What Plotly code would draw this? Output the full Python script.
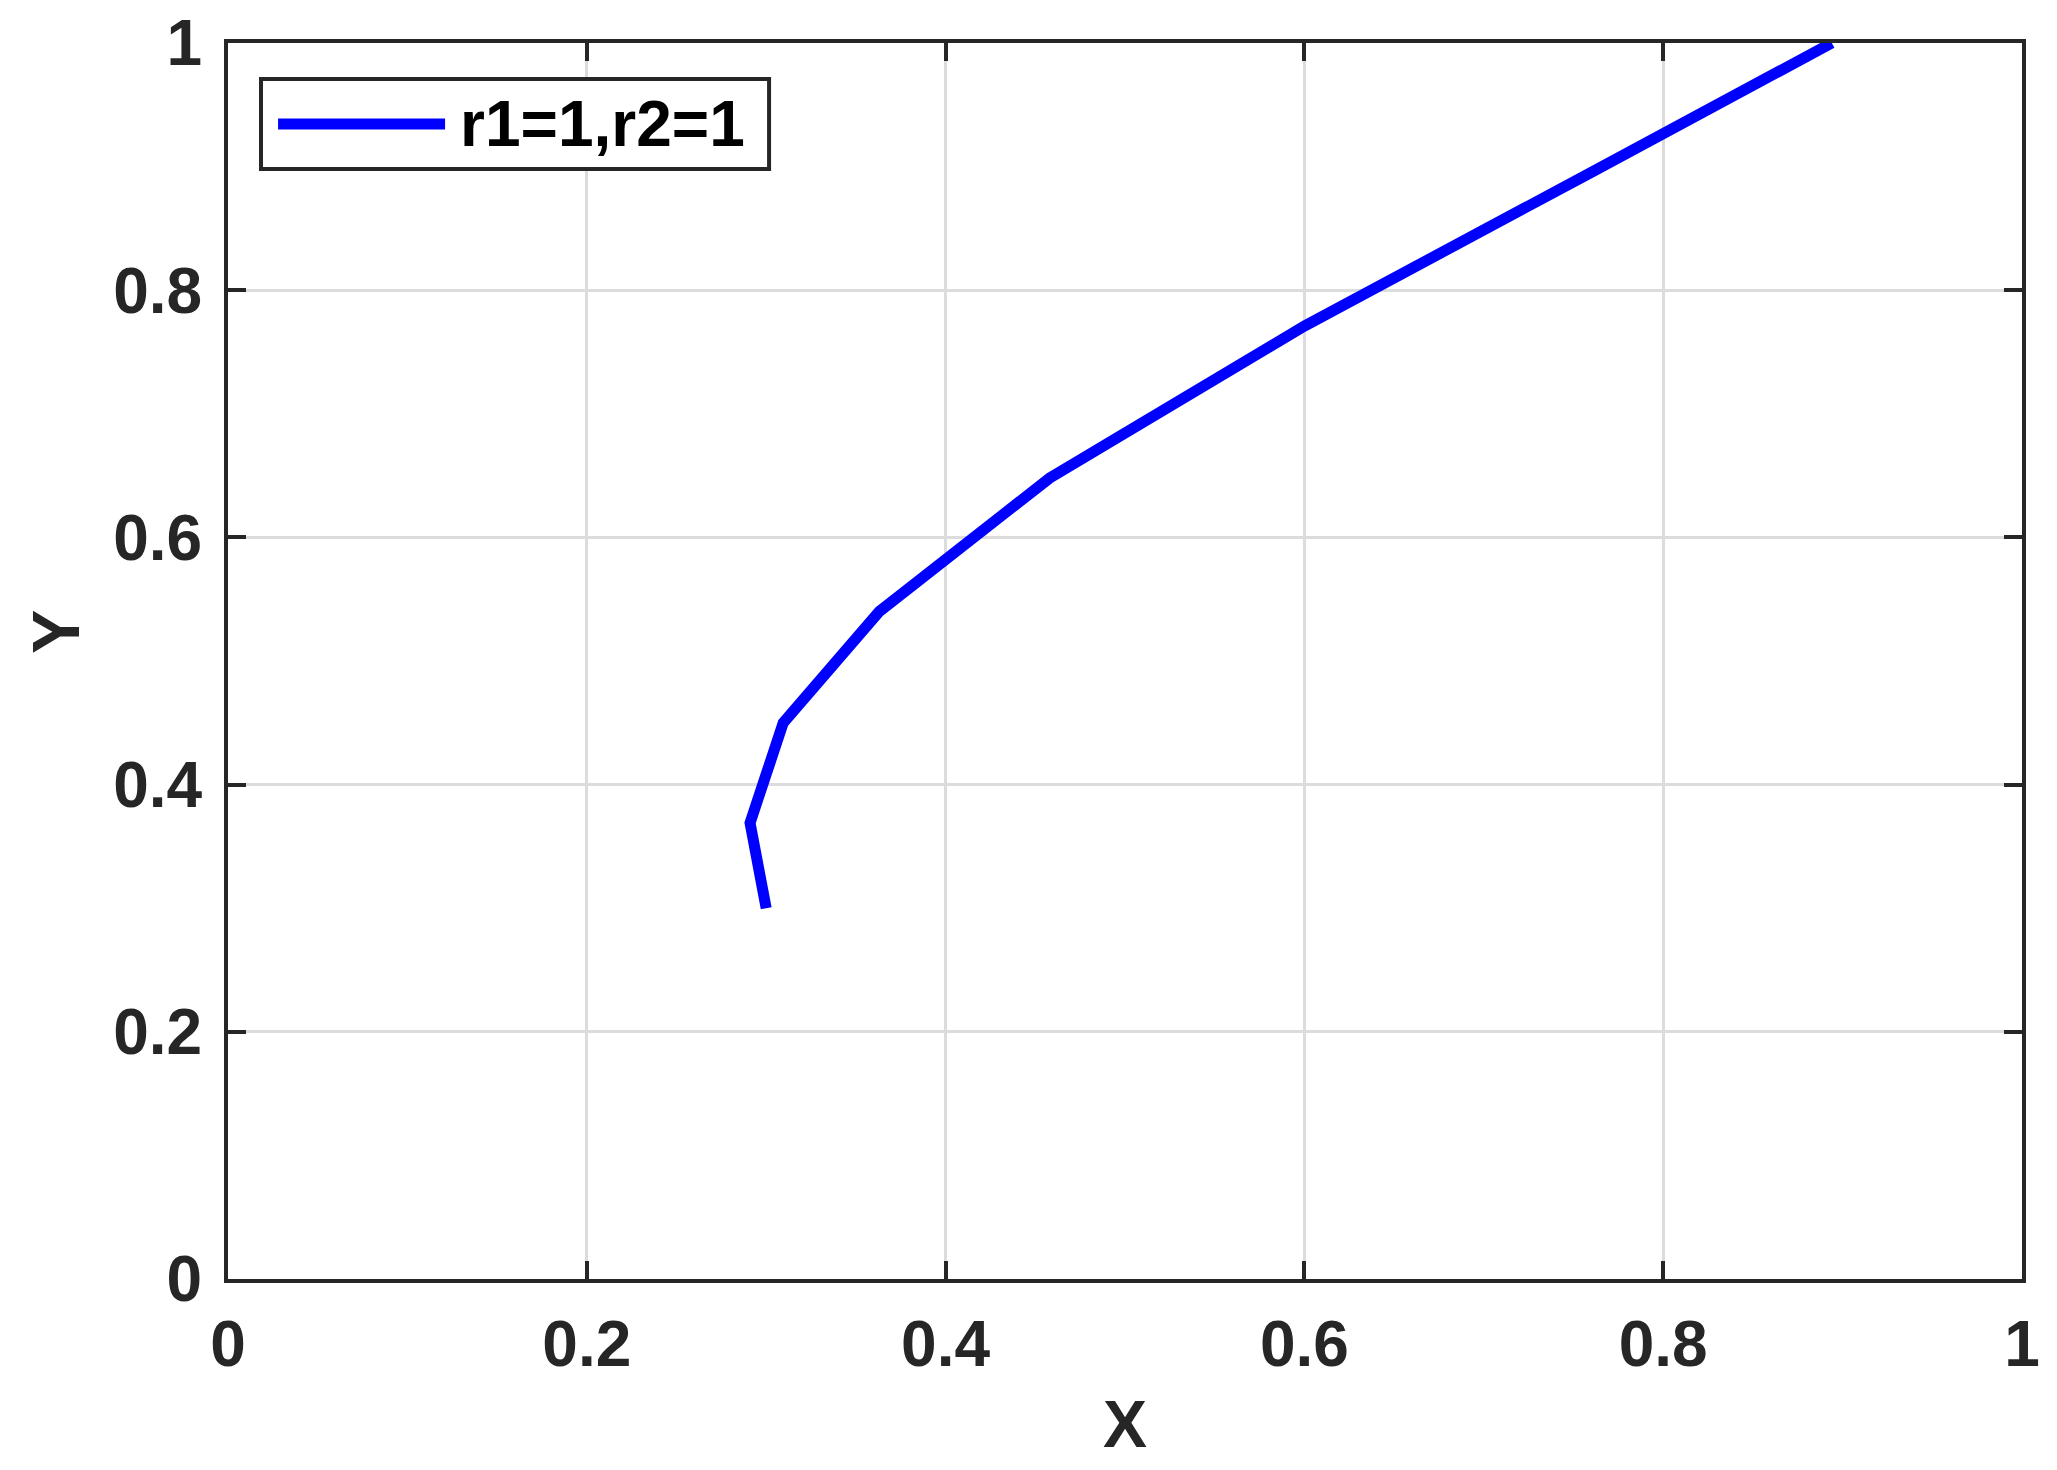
import plotly.graph_objects as go

# trajectory
x_vals = [0.300, 0.291, 0.3095, 0.363, 0.458, 0.600, 0.762, 0.894]
y_vals = [0.300, 0.369, 0.450, 0.540, 0.648, 0.771, 0.897, 1.000]
series_name = "r1=1,r2=1"
tick_vals = [0, 0.2, 0.4, 0.6, 0.8, 1]
tick_text = ["0", "0.2", "0.4", "0.6", "0.8", "1"]

axis_col = "#262626"
grid_col = "#dcdcdc"
font_fam = "Liberation Sans, Arial, sans-serif"

fig = go.Figure()
fig.add_trace(go.Scatter(x=x_vals, y=y_vals, mode="lines", name=series_name,
                         line=dict(color="#0000ff", width=11), showlegend=False))

axis_common = dict(
    range=[0, 1], tickvals=tick_vals, ticktext=tick_text,
    showgrid=True, gridcolor=grid_col, gridwidth=3,
    showline=True, linecolor=axis_col, linewidth=4, mirror="ticks",
    ticks="inside", ticklen=18, tickwidth=4, tickcolor=axis_col,
    zeroline=False, automargin=False, ticklabeloverflow="allow",
    tickfont=dict(family=font_fam, size=64, color=axis_col, weight="bold"),
)

fig.update_xaxes(**axis_common, ticklabelstandoff=6)
fig.update_yaxes(**axis_common, ticklabelstandoff=9)

# axis titles as annotations to place them like the original
fig.add_annotation(text="X", xref="paper", yref="paper", x=0.5, y=-0.1175,
                   xanchor="center", yanchor="middle", showarrow=False,
                   font=dict(family=font_fam, size=66, color=axis_col, weight="bold"))
fig.add_annotation(text="Y", xref="paper", yref="paper", x=-0.096, y=0.5235,
                   xanchor="center", yanchor="middle", showarrow=False, textangle=-90,
                   font=dict(family=font_fam, size=66, color=axis_col, weight="bold"))

# legend box drawn by hand so the sample line is as long as in the original
fig.add_shape(type="rect", xref="paper", yref="paper", x0=0.0184, x1=0.3016, y0=0.8981, y1=0.9709,
              line=dict(color=axis_col, width=4), fillcolor="white", layer="above")
fig.add_shape(type="line", xref="paper", yref="paper", x0=0.0279, x1=0.1210, y0=0.9345, y1=0.9345,
              line=dict(color="#0000ff", width=11), layer="above")
fig.add_annotation(text=series_name, xref="paper", yref="paper", x=0.1282, y=0.9345,
                   xanchor="left", yanchor="middle", showarrow=False,
                   font=dict(family=font_fam, size=64, color="black", weight="bold"))

# page body has an 8px margin, so the figure is sized to fit inside the window
fig.update_layout(
    width=2049, height=1462,
    margin=dict(l=220, r=35, t=35, b=191),
    plot_bgcolor="white", paper_bgcolor="white",
)

fig.write_html("out.html")
